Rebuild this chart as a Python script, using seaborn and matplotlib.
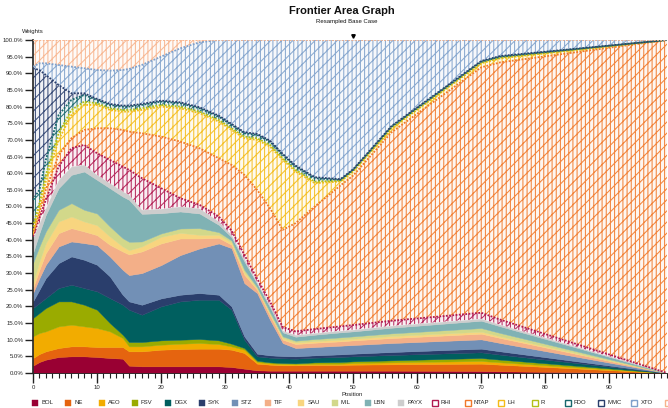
import numpy as np
import matplotlib
matplotlib.use("Agg")
import matplotlib.pyplot as plt
import matplotlib.colors as mcolors
from matplotlib.patches import Rectangle
import seaborn as sns

positions = [0, 1, 2, 4, 6, 8, 10, 12, 14, 15, 17, 20, 23, 26, 29, 31, 33, 35, 37, 39, 41, 44, 48, 50, 56, 70, 73, 99]

BOL = [2.2, 3.3, 4, 4.8, 5, 5, 4.8, 4.5, 4.3, 2.2, 2, 2, 2, 2, 2, 1.8, 1.3, 0.8, 0.7, 0.7, 0.7, 0.7, 0.7, 0.7, 0.7, 0.6, 0.5, 0]
NE = [2.3, 2.4, 2.5, 2.7, 3, 3, 3, 3.3, 3.5, 4.3, 4.5, 5, 5.2, 5.3, 5.3, 5.2, 4.7, 2, 1.8, 1.6, 1.6, 1.7, 1.7, 1.8, 1.9, 2.2, 2.0, 0]
AEO = [6.5, 6.3, 6, 6.5, 6.5, 6, 5.7, 4.7, 2.7, 1.5, 1.5, 1.5, 1.6, 1.7, 1.4, 1, 1, 0.5, 0.4, 0.4, 0.3, 0.4, 0.4, 0.5, 0.6, 0.8, 0.7, 0]
FSV = [5.5, 6, 7, 7.5, 7, 6.5, 5.5, 2.5, 1, 1.3, 1.3, 1.3, 1.2, 1.2, 1.1, 0.8, 0.5, 0.4, 0.3, 0.3, 0.3, 0.4, 0.5, 0.5, 0.6, 0.9, 0.8, 0]
DGX = [3, 3, 3, 4, 5, 5, 5.5, 7.5, 9, 9.7, 8.2, 10.2, 11.5, 11.8, 12.2, 10.2, 2.5, 1.3, 1.4, 1.4, 1.4, 1.4, 1.5, 1.5, 1.6, 1.7, 1.5, 0]
SYK = [2, 4, 6, 7.5, 8.5, 8.5, 8, 6.5, 3, 2.5, 3, 2.4, 2, 2, 1.5, 1, 1, 0.8, 0.7, 0.7, 0.7, 0.7, 0.8, 0.8, 0.9, 1.1, 1.0, 0]
STZ = [2.5, 3.5, 4, 5, 4.5, 5, 5.9, 6, 7.5, 7.9, 9.5, 10, 11.9, 13.4, 15.4, 17.5, 16, 18.2, 10.7, 3.9, 2.5, 2.5, 2.6, 2.6, 2.7, 2.8, 2.5, 0]
TIF = [1.5, 2.5, 3.5, 4, 4, 3.5, 3, 3.5, 5.5, 6.2, 6.5, 6.5, 5, 3, 1.7, 1, 2.5, 1, 1.3, 1, 1.2, 1.3, 1.3, 1.4, 1.5, 1.7, 1.5, 0]
SAU = [1.5, 2.5, 3, 3.5, 3.5, 3, 3, 2.5, 1.5, 1.3, 1.5, 2, 1.7, 1.1, 0.9, 0.7, 0.8, 0.4, 0.5, 0.5, 0.5, 0.5, 0.5, 0.5, 0.6, 0.6, 0.5, 0]
MIL = [6, 4.5, 3.5, 3.5, 4, 3.5, 3.5, 3, 2.5, 2.5, 1.5, 1, 1.3, 2, 0.8, 0.6, 0.7, 0.4, 0.5, 0.5, 0.5, 0.6, 0.7, 0.7, 0.8, 1.1, 1.0, 0]
LBN = [3, 4, 5, 6.5, 8.5, 11.5, 10.1, 11.5, 12.5, 12.6, 8.3, 6.1, 5.1, 4.4, 2.2, 1, 2.5, 1, 1.5, 1.2, 1.2, 1.3, 1.5, 1.5, 1.7, 2.2, 2.0, 0]
PAYX = [4.5, 3, 2, 2.5, 2.5, 2, 1.5, 1.5, 1.5, 1.5, 1.2, 1.3, 1.5, 1.5, 1, 0.7, 0.8, 0.5, 0.6, 0.5, 0.5, 0.5, 0.5, 0.5, 0.6, 0.6, 0.5, 0]
RHI = [0.5, 1.5, 2.5, 4, 5.5, 6, 6.5, 7, 7.5, 7.5, 9.5, 6.2, 2.5, 1.1, 1.5, 1.3, 1.2, 1.0, 1.1, 1.1, 1.1, 1.2, 1.3, 1.4, 1.5, 1.8, 1.5, 0]
NTAP = [0.5, 1.5, 3, 3.5, 3, 4.5, 7.5, 9.5, 11, 11.5, 13.5, 15.5, 17, 17, 17.5, 19.7, 24, 26.7, 28, 29.2, 32.5, 36.8, 42.3, 44.9, 56.6, 73.7, 77.3, 100]
LH = [0.5, 1.5, 2.5, 4.5, 7, 7.5, 7, 5.5, 5.5, 6, 7, 9, 10, 10.5, 11, 10.5, 11, 15, 18.5, 21, 15.5, 7, 1.2, 1.2, 1.2, 1.2, 1.2, 0]
R = [2, 1.5, 2, 2, 1.5, 1, 0.5, 0.5, 0.5, 0.5, 0.5, 0.5, 0.5, 0.5, 0.5, 0.5, 0.5, 0.5, 0.5, 0.5, 0.5, 0.5, 0.2, 0.2, 0.2, 0.2, 0.2, 0]
FDO = [8, 4, 4.5, 5.5, 3, 2, 1, 1, 1, 1, 1, 1, 1, 1, 1, 1, 1, 1, 1, 1, 1, 1, 0.3, 0.3, 0.3, 0.3, 0.3, 0]
MMC = [39.5, 36, 25.5, 9, 2, 0.5, 0.3, 0.3, 0.3, 0.3, 0.3, 0.3, 0.3, 0.3, 0.3, 0.3, 0.3, 0.3, 0.3, 0.3, 0.3, 0.3, 0.2, 0.2, 0.2, 0.2, 0.2, 0]
XTO = [0.5, 2, 3.5, 6, 8, 7.5, 8.7, 10, 10.7, 11, 11.7, 13.2, 16.2, 19.5, 22.7, 25.2, 27.7, 28.2, 30.2, 34.2, 37.7, 41.2, 41.8, 38.8, 25.8, 6.3, 4.8, 0]
OTHER = [8, 7, 7, 7.5, 8, 8.5, 9, 9.2, 9, 8.7, 7.5, 5, 2.5, 0.7, 0, 0, 0, 0, 0, 0, 0, 0, 0, 0, 0, 0, 0, 0]

names = ["BOL", "NE", "AEO", "FSV", "DGX", "SYK", "STZ", "TIF", "SAU", "MIL", "LBN", "PAYX",
         "RHI", "NTAP", "LH", "R", "FDO", "MMC", "XTO", ""]
series = [BOL, NE, AEO, FSV, DGX, SYK, STZ, TIF, SAU, MIL, LBN, PAYX,
          RHI, NTAP, LH, R, FDO, MMC, XTO, OTHER]
colors = ["#990033", "#E5640F", "#F2AC00", "#9AAB00", "#005F5F", "#2A3E6C", "#7290B6",
          "#F3AF88", "#F8D57F", "#D2D88A", "#80B2B4", "#CDCDCD",
          "#B0184F", "#F0782A", "#F4BB18", "#B3BF16", "#17676C", "#2A3E6C", "#7EA0CB", "#F7B38C"]
n_solid = 12

sns.set_theme(style="white")
plt.rcParams["font.family"] = ["Liberation Sans Narrow", "Liberation Sans", "DejaVu Sans"]
plt.rcParams["hatch.linewidth"] = 0.75

W, H = 668, 408
fig = plt.figure(figsize=(W / 100, H / 100), dpi=100)
ax = fig.add_axes([33 / W, 1 - 373 / H, 634 / W, 333 / H])


def light(c, f=0.25):
    r, g, b = mcolors.to_rgb(c)
    return (r + (1 - r) * f, g + (1 - g) * f, b + (1 - b) * f)


polys = ax.stackplot(positions, *series, colors=colors, linewidth=0)
for i, poly in enumerate(polys):
    if i >= n_solid:
        poly.set_facecolor(light(colors[i], 0.93))
        poly.set_edgecolor(light(colors[i], 0.1))
        poly.set_hatch("||||///")
        poly.set_linewidth(0)
    else:
        poly.set_edgecolor(colors[i])
        poly.set_linewidth(0.3)

# dotted top boundaries of the hatched layers
cum = np.cumsum(np.array(series, dtype=float), axis=0)
for i in range(n_solid, len(series)):
    sns.lineplot(x=positions, y=cum[i], ax=ax, color=colors[i], linestyle=(0, (1, 0.8)),
                 linewidth=1.3, zorder=5)

ax.set_xlim(0, 99)
ax.set_ylim(0, 100)
ax.set_xticks(range(0, 100, 10))
ax.set_xticks(range(0, 100), minor=True)
ax.set_xticklabels([str(v) for v in range(0, 100, 10)])
yt = list(range(0, 101, 5))
ax.set_yticks(yt)
ax.set_yticklabels([f"{v:.1f}%" for v in yt])
ax.tick_params(axis="y", which="major", direction="out", length=6, width=1.0,
               color="#222222", labelsize=4.3, pad=1, left=True)
ax.tick_params(axis="x", which="major", direction="out", length=7, width=1.0,
               color="#222222", labelsize=4.3, pad=1.5, bottom=True)
ax.tick_params(axis="x", which="minor", direction="out", length=3.5, width=0.8,
               color="#222222", bottom=True)
for s in ["top", "right"]:
    ax.spines[s].set_visible(False)
ax.spines["left"].set_color("#222222")
ax.spines["left"].set_linewidth(1.2)
ax.spines["bottom"].set_color("#222222")
ax.spines["bottom"].set_linewidth(0.6)
ax.set_xlabel("")
ax.set_ylabel("")
ax.grid(False)

# marker above position 50
ax.plot([50], [101.3], marker="v", color="black", markersize=2.5, clip_on=False, linestyle="none")

fig.text(342 / W, 1 - 11 / H, "Frontier Area Graph", ha="center", va="center",
         fontsize=8, fontweight="bold", color="#111111")
fig.text(347 / W, 1 - 21.5 / H, "Resampled Base Case", ha="center", va="center",
         fontsize=4.3, color="#111111")
fig.text(33 / W, 1 - 31 / H, "Weights", ha="center", va="center", fontsize=4.3, color="#222222")
fig.text(352 / W, 1 - 395 / H, "Position", ha="center", va="center", fontsize=4.3, color="#222222")

# legend row
for i, (name, col) in enumerate(zip(names, colors)):
    x0 = 32 + 33.3 * i
    rect = Rectangle((x0 / W, 1 - 405.5 / H), 6 / W, 6 / H, transform=fig.transFigure,
                     clip_on=False)
    if i < n_solid:
        rect.set_facecolor(col)
        rect.set_edgecolor(col)
        rect.set_linewidth(0.3)
    else:
        rect.set_facecolor("white")
        rect.set_edgecolor(col)
        rect.set_linewidth(1.0)
        rect.set_hatch("//")
    fig.add_artist(rect)
    if name:
        fig.text((x0 + 9) / W, 1 - 402.5 / H, name, ha="left", va="center",
                 fontsize=4.3, color="#222222")

fig.savefig("out.png", dpi=100)
